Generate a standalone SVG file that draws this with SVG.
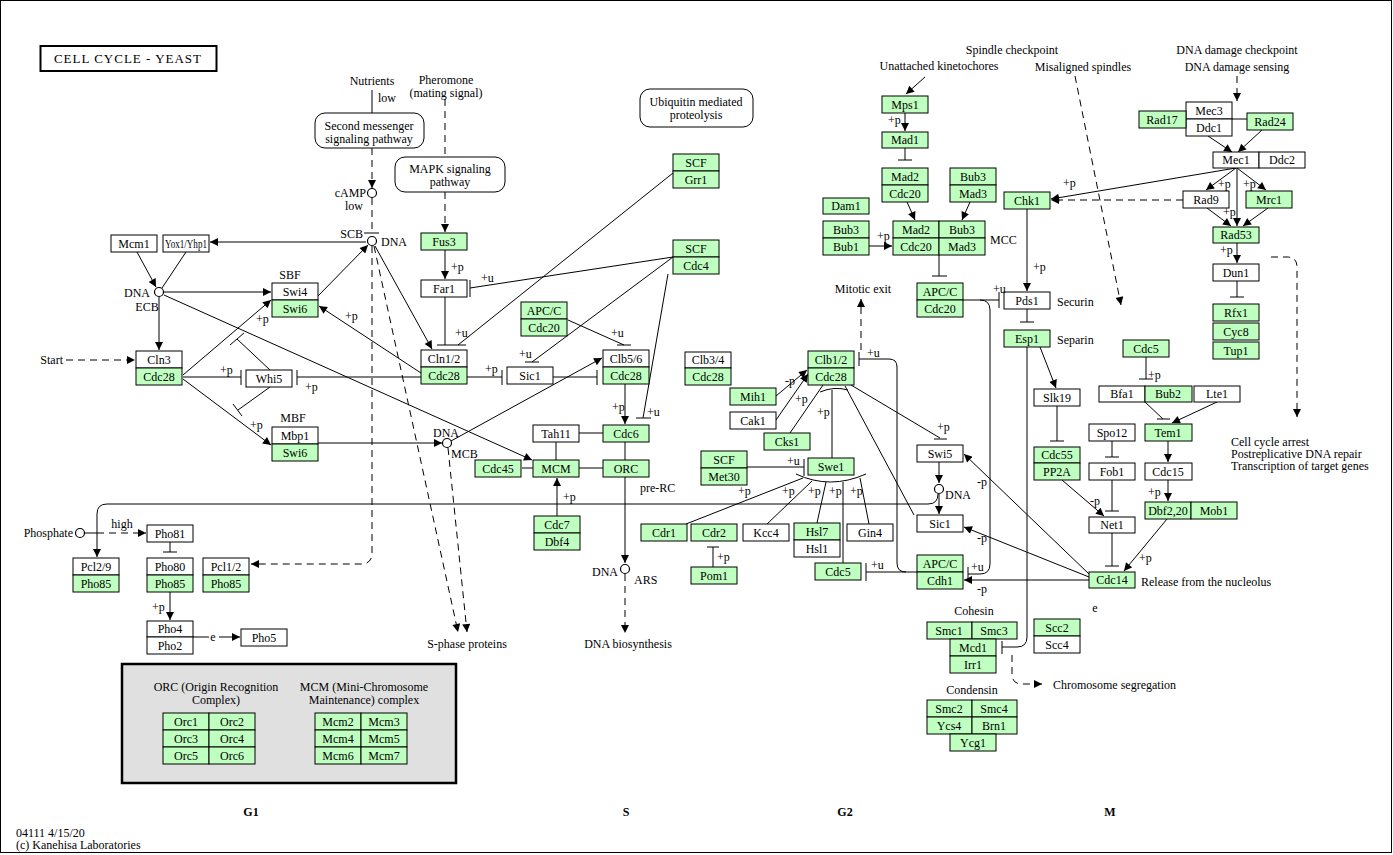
<svg xmlns="http://www.w3.org/2000/svg" width="1393" height="855" viewBox="0 0 1393 855">
<style>
text{font-family:"Liberation Serif","Times New Roman",serif;font-size:12px;fill:#000}
.c{text-anchor:middle}
.e{text-anchor:end}
.w{fill:#fff;stroke:#000;stroke-width:1}
.g{fill:#bfffbf;stroke:#000;stroke-width:1}
.l{stroke:#000;stroke-width:1;fill:none}
.d{stroke:#000;stroke-width:1;fill:none;stroke-dasharray:7,5}
.ci{fill:#fff;stroke:#000;stroke-width:1.2}
.pw{fill:#fff;stroke:#000;stroke-width:1}
.b{font-weight:bold;font-size:12px}
</style>
<defs>
<marker id="a" viewBox="0 0 10 10" refX="10" refY="5" markerWidth="9" markerHeight="8" markerUnits="userSpaceOnUse" orient="auto"><path d="M0,0L10,5L0,10z" fill="#000"/></marker>
</defs>
<rect x="0.5" y="0.5" width="1391" height="852" fill="#fff" stroke="#000"/>
<g id="title"><rect x="40.5" y="46" width="176" height="25" fill="#fff" stroke="#000" stroke-width="2"/><text x="128" y="63" class="c" style="font-size:13px;letter-spacing:1px">CELL  CYCLE  -  YEAST</text></g>

<g id="connectors">
<line class="l" x1="366" y1="242" x2="210" y2="242" marker-end="url(#a)"/>
<line class="l" x1="137" y1="252" x2="156" y2="287" marker-end="url(#a)"/>
<line class="l" x1="186" y1="252" x2="162" y2="288"/>
<line class="l" x1="164" y1="292" x2="271" y2="292" marker-end="url(#a)"/>
<line class="l" x1="159" y1="297" x2="159" y2="350" marker-end="url(#a)"/>
<line class="d" x1="66" y1="360" x2="135" y2="360" marker-end="url(#a)"/>
<line class="l" x1="183" y1="375" x2="271" y2="300" marker-end="url(#a)"/>
<line class="l" x1="183" y1="377" x2="241" y2="377"/><line class="l" x1="241" y1="370" x2="241" y2="385"/>
<line class="l" x1="183" y1="379" x2="271" y2="445" marker-end="url(#a)"/>
<line class="l" x1="270" y1="370" x2="237" y2="339"/><line class="l" x1="230" y1="345" x2="244" y2="333"/>
<line class="l" x1="270" y1="387" x2="238" y2="410"/><line class="l" x1="233" y1="404" x2="242" y2="416"/>
<line class="l" x1="421" y1="377" x2="297" y2="377"/><line class="l" x1="297" y1="370" x2="297" y2="385"/>
<line class="l" x1="421" y1="373" x2="319" y2="306" marker-end="url(#a)"/>
<line class="l" x1="318" y1="296" x2="368" y2="245" marker-end="url(#a)"/>
<line class="l" x1="164" y1="295" x2="532" y2="460" marker-end="url(#a)"/>
<line class="l" x1="318" y1="443" x2="442" y2="443" marker-end="url(#a)"/>
<line class="l" x1="451" y1="441" x2="602" y2="358" marker-end="url(#a)"/>
<line class="l" x1="375" y1="246" x2="432" y2="349" marker-end="url(#a)"/>
<line class="l" x1="372" y1="90" x2="372" y2="113"/>
<line class="d" x1="372" y1="148" x2="372" y2="188" marker-end="url(#a)"/>
<line class="d" x1="372" y1="198" x2="372" y2="233"/><line class="l" x1="364" y1="233" x2="379" y2="233"/>
<line class="d" x1="445" y1="99" x2="445" y2="157"/>
<line class="d" x1="445" y1="192" x2="445" y2="232" marker-end="url(#a)"/>
<line class="l" x1="445" y1="250" x2="445" y2="279" marker-end="url(#a)"/>
<line class="l" x1="445" y1="297" x2="445" y2="345"/><line class="l" x1="437" y1="345" x2="466" y2="345"/>
<line class="l" x1="673" y1="173" x2="458" y2="345"/>
<line class="l" x1="673" y1="257" x2="470" y2="288"/><line class="l" x1="470" y1="280" x2="470" y2="297"/>
<line class="l" x1="673" y1="257" x2="532" y2="362"/><line class="l" x1="525" y1="362" x2="539" y2="362"/>
<line class="l" x1="668" y1="274" x2="643" y2="418"/><line class="l" x1="636" y1="418" x2="651" y2="418"/>
<line class="l" x1="467" y1="377" x2="502" y2="377"/><line class="l" x1="502" y1="370" x2="502" y2="385"/>
<line class="l" x1="553" y1="377" x2="597" y2="377"/><line class="l" x1="597" y1="370" x2="597" y2="385"/>
<line class="l" x1="568" y1="320" x2="624" y2="345"/><line class="l" x1="617" y1="345" x2="631" y2="345"/>
<line class="l" x1="625" y1="384" x2="625" y2="424" marker-end="url(#a)"/>
<line class="l" x1="579" y1="433" x2="603" y2="433"/>
<line class="l" x1="556" y1="442" x2="556" y2="460"/>
<line class="l" x1="522" y1="468" x2="533" y2="468"/>
<line class="l" x1="579" y1="468" x2="603" y2="468"/>
<line class="l" x1="625" y1="442" x2="625" y2="460"/>
<line class="l" x1="557" y1="516" x2="557" y2="478" marker-end="url(#a)"/>
<line class="l" x1="625" y1="477" x2="625" y2="563" marker-end="url(#a)"/>
<line class="d" x1="625" y1="574" x2="625" y2="633" marker-end="url(#a)"/>
<line class="d" x1="374" y1="246" x2="458" y2="632" marker-end="url(#a)"/>
<line class="d" x1="448" y1="448" x2="467" y2="632" marker-end="url(#a)"/>
<path class="d" d="M372,246V553Q372,564 361,564H251" marker-end="url(#a)"/>
<line class="l" x1="85" y1="533" x2="97" y2="533"/>
<line class="d" x1="97" y1="533" x2="146" y2="533" marker-end="url(#a)"/>
<path class="l" d="M938,494Q938,504 928,504H107Q97,504 97,514V557" marker-end="url(#a)"/>
<line class="l" x1="170" y1="542" x2="170" y2="552"/><line class="l" x1="163" y1="552" x2="177" y2="552"/>
<line class="l" x1="170" y1="592" x2="170" y2="620" marker-end="url(#a)"/>
<line class="l" x1="193" y1="637" x2="209" y2="637"/>
<line class="l" x1="219" y1="637" x2="240" y2="637" marker-end="url(#a)"/>

<line class="l" x1="776" y1="396" x2="807" y2="370" marker-end="url(#a)"/>
<line class="l" x1="776" y1="420" x2="808" y2="374" marker-end="url(#a)"/>
<line class="l" x1="790" y1="433" x2="823" y2="385"/>
<line class="d" x1="861" y1="350" x2="861" y2="299" marker-end="url(#a)"/>
<line class="l" x1="832" y1="458" x2="832" y2="390"/><path class="l" d="M820,392Q834,386 848,390"/>
<line class="l" x1="747" y1="467" x2="804" y2="467"/><line class="l" x1="804" y1="459" x2="804" y2="476"/>
<path class="l" d="M796,474Q830,490 866,474"/>
<line class="l" x1="686" y1="524" x2="803" y2="478"/>
<line class="l" x1="767" y1="524" x2="812" y2="481"/>
<line class="l" x1="817" y1="523" x2="826" y2="482"/>
<line class="l" x1="843" y1="563" x2="843" y2="482"/>
<line class="l" x1="869" y1="524" x2="860" y2="478"/>
<line class="l" x1="713" y1="567" x2="713" y2="547"/><line class="l" x1="707" y1="547" x2="719" y2="547"/>
<line class="l" x1="851" y1="385" x2="940" y2="438"/><line class="l" x1="934" y1="439" x2="947" y2="439"/>
<line class="l" x1="845" y1="386" x2="914" y2="515"/>
<line class="l" x1="939" y1="462" x2="939" y2="483" marker-end="url(#a)"/>
<line class="l" x1="939" y1="494" x2="939" y2="514" marker-end="url(#a)"/>
<line class="l" x1="1089" y1="574" x2="964" y2="454" marker-end="url(#a)"/>
<line class="l" x1="1089" y1="577" x2="964" y2="527" marker-end="url(#a)"/>
<line class="l" x1="1089" y1="580" x2="964" y2="580" marker-end="url(#a)"/>
<path class="l" d="M917,572H906Q897,572 897,563V367Q897,359 889,359H859"/><line class="l" x1="859" y1="352" x2="859" y2="366"/>
<line class="l" x1="906" y1="572" x2="866" y2="572"/><line class="l" x1="866" y1="563" x2="866" y2="581"/>
<line class="l" x1="963" y1="300" x2="999" y2="300"/><line class="l" x1="999" y1="292" x2="999" y2="308"/>
<path class="l" d="M980,300Q990,300 990,310V564Q990,574 980,574H968"/><line class="l" x1="968" y1="567" x2="968" y2="580"/>
<line class="l" x1="1027" y1="209" x2="1027" y2="291" marker-end="url(#a)"/>
<line class="l" x1="1027" y1="309" x2="1027" y2="322"/><line class="l" x1="1020" y1="322" x2="1034" y2="322"/>
<path class="l" d="M1027,347V637Q1027,647 1017,647H1002"/><line class="l" x1="1002" y1="641" x2="1002" y2="654"/>
<line class="l" x1="1040" y1="347" x2="1056" y2="388" marker-end="url(#a)"/>
<line class="l" x1="1057" y1="406" x2="1057" y2="441"/><line class="l" x1="1050" y1="441" x2="1064" y2="441"/>
<line class="l" x1="1062" y1="480" x2="1104" y2="516" marker-end="url(#a)"/>
<line class="d" x1="1075" y1="76" x2="1121" y2="305" marker-end="url(#a)"/>
<line class="l" x1="925" y1="77" x2="906" y2="94" marker-end="url(#a)"/>
<line class="l" x1="905" y1="113" x2="905" y2="131" marker-end="url(#a)"/>
<line class="l" x1="905" y1="148" x2="905" y2="160"/><line class="l" x1="898" y1="160" x2="912" y2="160"/>
<line class="l" x1="907" y1="202" x2="915" y2="220" marker-end="url(#a)"/>
<line class="l" x1="970" y1="202" x2="962" y2="220" marker-end="url(#a)"/>
<line class="l" x1="869" y1="246" x2="892" y2="246" marker-end="url(#a)"/>
<line class="l" x1="939" y1="254" x2="939" y2="276"/><line class="l" x1="932" y1="276" x2="947" y2="276"/>
<line class="d" x1="1237" y1="76" x2="1237" y2="101" marker-end="url(#a)"/>
<line class="l" x1="1232" y1="119" x2="1247" y2="119"/>
<line class="l" x1="1208" y1="136" x2="1232" y2="152" marker-end="url(#a)"/>
<line class="l" x1="1262" y1="130" x2="1238" y2="152" marker-end="url(#a)"/>
<line class="l" x1="1236" y1="168" x2="1051" y2="199" marker-end="url(#a)"/>
<line class="d" x1="1183" y1="200" x2="1051" y2="200" marker-end="url(#a)"/>
<line class="l" x1="1236" y1="168" x2="1206" y2="190" marker-end="url(#a)"/>
<line class="l" x1="1237" y1="168" x2="1266" y2="190" marker-end="url(#a)"/>
<line class="l" x1="1237" y1="168" x2="1237" y2="226" marker-end="url(#a)"/>
<line class="l" x1="1207" y1="208" x2="1231" y2="226" marker-end="url(#a)"/>
<line class="l" x1="1268" y1="208" x2="1243" y2="226" marker-end="url(#a)"/>
<line class="l" x1="1237" y1="243" x2="1237" y2="263" marker-end="url(#a)"/>
<line class="l" x1="1237" y1="281" x2="1237" y2="297"/><line class="l" x1="1230" y1="297" x2="1244" y2="297"/>
<path class="d" d="M1271,257H1287Q1297,257 1297,267V417" marker-end="url(#a)"/>
<line class="l" x1="1146" y1="357" x2="1146" y2="379"/><line class="l" x1="1139" y1="379" x2="1153" y2="379"/>
<line class="l" x1="1145" y1="402" x2="1163" y2="419"/><line class="l" x1="1157" y1="419" x2="1170" y2="419"/>
<line class="l" x1="1217" y1="402" x2="1172" y2="423" marker-end="url(#a)"/>
<line class="l" x1="1168" y1="441" x2="1168" y2="462" marker-end="url(#a)"/>
<line class="l" x1="1168" y1="480" x2="1168" y2="501" marker-end="url(#a)"/>
<line class="l" x1="1167" y1="519" x2="1124" y2="571" marker-end="url(#a)"/>
<line class="l" x1="1112" y1="441" x2="1112" y2="457"/><line class="l" x1="1105" y1="457" x2="1119" y2="457"/>
<line class="l" x1="1112" y1="480" x2="1112" y2="511"/><line class="l" x1="1105" y1="511" x2="1119" y2="511"/>
<line class="l" x1="1112" y1="533" x2="1112" y2="566"/><line class="l" x1="1105" y1="566" x2="1119" y2="566"/>
<path class="d" d="M1012,655V674Q1012,684 1022,684H1042" marker-end="url(#a)"/>
</g>

<g id="circles">
<circle class="ci" cx="159" cy="292" r="4.5"/>
<circle class="ci" cx="372" cy="241" r="4.5"/>
<circle class="ci" cx="372" cy="193" r="4.5"/>
<circle class="ci" cx="447" cy="443" r="4.5"/>
<circle class="ci" cx="625" cy="569" r="4.5"/>
<circle class="ci" cx="80" cy="533" r="4.5"/>
<circle class="ci" cx="939" cy="489" r="4.5"/>
</g>

<g id="pathways">
<rect class="pw" x="315" y="113" width="109" height="35" rx="10"/><text x="369" y="130" class="c">Second messenger</text><text x="369" y="143" class="c">signaling pathway</text>
<rect class="pw" x="395" y="157" width="110" height="35" rx="10"/><text x="450" y="173" class="c">MAPK signaling</text><text x="450" y="186" class="c">pathway</text>
<rect class="pw" x="640" y="89" width="113" height="38" rx="10"/><text x="696" y="106" class="c">Ubiquitin mediated</text><text x="696" y="119" class="c">proteolysis</text>
</g>

<g id="n-mcm1"><rect class="w" x="111" y="235" width="46" height="17"/><text x="134" y="248" class="c">Mcm1</text></g>
<g id="n-yox1"><rect class="w" x="163" y="235" width="46" height="17"/><text x="186" y="248" class="c" textLength="42" lengthAdjust="spacingAndGlyphs">Yox1/Yhp1</text></g>
<g id="n-sbf"><rect class="w" x="272" y="283" width="46" height="17"/><text x="295" y="296" class="c">Swi4</text><rect class="g" x="272" y="300" width="46" height="17"/><text x="295" y="313" class="c">Swi6</text></g>
<g id="n-cln3"><rect class="w" x="136" y="351" width="46" height="17"/><text x="159" y="364" class="c">Cln3</text><rect class="g" x="136" y="368" width="46" height="17"/><text x="159" y="381" class="c">Cdc28</text></g>
<g id="n-whi5"><rect class="w" x="246" y="370" width="46" height="17"/><text x="269" y="383" class="c">Whi5</text></g>
<g id="n-mbf"><rect class="w" x="272" y="427" width="46" height="17"/><text x="295" y="440" class="c">Mbp1</text><rect class="g" x="272" y="444" width="46" height="17"/><text x="295" y="457" class="c">Swi6</text></g>
<g id="n-fus3"><rect class="g" x="421" y="233" width="46" height="17"/><text x="444" y="246" class="c">Fus3</text></g>
<g id="n-far1"><rect class="w" x="421" y="280" width="46" height="17"/><text x="444" y="293" class="c">Far1</text></g>
<g id="n-cln12"><rect class="w" x="421" y="350" width="46" height="17"/><text x="444" y="363" class="c">Cln1/2</text><rect class="g" x="421" y="367" width="46" height="17"/><text x="444" y="380" class="c">Cdc28</text></g>
<g id="n-sic1"><rect class="w" x="507" y="367" width="46" height="17"/><text x="530" y="380" class="c">Sic1</text></g>
<g id="n-clb56"><rect class="w" x="603" y="350" width="46" height="17"/><text x="626" y="363" class="c">Clb5/6</text><rect class="g" x="603" y="367" width="46" height="17"/><text x="626" y="380" class="c">Cdc28</text></g>
<g id="n-apcc-cdc20a"><rect class="g" x="521" y="302" width="46" height="17"/><text x="544" y="315" class="c">APC/C</text><rect class="g" x="521" y="319" width="46" height="17"/><text x="544" y="332" class="c">Cdc20</text></g>
<g id="n-scf-grr1"><rect class="g" x="673" y="154" width="46" height="17"/><text x="696" y="167" class="c">SCF</text><rect class="g" x="673" y="171" width="46" height="17"/><text x="696" y="184" class="c">Grr1</text></g>
<g id="n-scf-cdc4"><rect class="g" x="673" y="240" width="46" height="17"/><text x="696" y="253" class="c">SCF</text><rect class="g" x="673" y="257" width="46" height="17"/><text x="696" y="270" class="c">Cdc4</text></g>
<g id="n-cdc6"><rect class="g" x="603" y="425" width="46" height="17"/><text x="626" y="438" class="c">Cdc6</text></g>
<g id="n-tah11"><rect class="w" x="533" y="425" width="46" height="17"/><text x="556" y="438" class="c">Tah11</text></g>
<g id="n-mcm"><rect class="g" x="533" y="460" width="46" height="17"/><text x="556" y="473" class="c">MCM</text></g>
<g id="n-cdc45"><rect class="g" x="475" y="460" width="46" height="17"/><text x="498" y="473" class="c">Cdc45</text></g>
<g id="n-orc"><rect class="g" x="603" y="460" width="46" height="17"/><text x="626" y="473" class="c">ORC</text></g>
<g id="n-cdc7"><rect class="g" x="534" y="516" width="46" height="17"/><text x="557" y="529" class="c">Cdc7</text><rect class="g" x="534" y="533" width="46" height="17"/><text x="557" y="546" class="c">Dbf4</text></g>
<g id="n-pho81"><rect class="w" x="147" y="525" width="46" height="17"/><text x="170" y="538" class="c">Pho81</text></g>
<g id="n-pcl29"><rect class="w" x="73" y="558" width="46" height="17"/><text x="96" y="571" class="c">Pcl2/9</text><rect class="g" x="73" y="575" width="46" height="17"/><text x="96" y="588" class="c">Pho85</text></g>
<g id="n-pho80"><rect class="w" x="147" y="558" width="46" height="17"/><text x="170" y="571" class="c">Pho80</text><rect class="g" x="147" y="575" width="46" height="17"/><text x="170" y="588" class="c">Pho85</text></g>
<g id="n-pcl12"><rect class="w" x="203" y="558" width="46" height="17"/><text x="226" y="571" class="c">Pcl1/2</text><rect class="g" x="203" y="575" width="46" height="17"/><text x="226" y="588" class="c">Pho85</text></g>
<g id="n-pho4"><rect class="w" x="147" y="621" width="46" height="16"/><text x="170" y="633" class="c">Pho4</text><rect class="w" x="147" y="637" width="46" height="17"/><text x="170" y="650" class="c">Pho2</text></g>
<g id="n-pho5"><rect class="w" x="241" y="629" width="46" height="17"/><text x="264" y="642" class="c">Pho5</text></g>

<g id="n-complexes">
<rect x="122" y="664" width="334" height="119" fill="#e0e0e0" stroke="#000" stroke-width="2.5"/>
<text x="216" y="691" class="c">ORC (Origin Recognition</text><text x="216" y="704" class="c">Complex)</text>
<text x="364" y="691" class="c">MCM (Mini-Chromosome</text><text x="364" y="704" class="c">Maintenance) complex</text>
<rect class="g" x="163" y="713" width="46" height="17"/><text x="186" y="726" class="c">Orc1</text>
<rect class="g" x="209" y="713" width="46" height="17"/><text x="232" y="726" class="c">Orc2</text>
<rect class="g" x="163" y="730" width="46" height="17"/><text x="186" y="743" class="c">Orc3</text>
<rect class="g" x="209" y="730" width="46" height="17"/><text x="232" y="743" class="c">Orc4</text>
<rect class="g" x="163" y="747" width="46" height="17"/><text x="186" y="760" class="c">Orc5</text>
<rect class="g" x="209" y="747" width="46" height="17"/><text x="232" y="760" class="c">Orc6</text>
<rect class="g" x="315" y="713" width="46" height="17"/><text x="338" y="726" class="c">Mcm2</text>
<rect class="g" x="361" y="713" width="46" height="17"/><text x="384" y="726" class="c">Mcm3</text>
<rect class="g" x="315" y="730" width="46" height="17"/><text x="338" y="743" class="c">Mcm4</text>
<rect class="g" x="361" y="730" width="46" height="17"/><text x="384" y="743" class="c">Mcm5</text>
<rect class="g" x="315" y="747" width="46" height="17"/><text x="338" y="760" class="c">Mcm6</text>
<rect class="g" x="361" y="747" width="46" height="17"/><text x="384" y="760" class="c">Mcm7</text>
</g>

<g id="n-clb34"><rect class="w" x="685" y="352" width="46" height="16"/><text x="708" y="364" class="c">Clb3/4</text><rect class="g" x="685" y="368" width="46" height="17"/><text x="708" y="381" class="c">Cdc28</text></g>
<g id="n-clb12"><rect class="g" x="808" y="351" width="46" height="17"/><text x="831" y="364" class="c">Clb1/2</text><rect class="g" x="808" y="368" width="46" height="17"/><text x="831" y="381" class="c">Cdc28</text></g>
<g id="n-mih1"><rect class="g" x="730" y="388" width="46" height="17"/><text x="753" y="401" class="c">Mih1</text></g>
<g id="n-cak1"><rect class="w" x="730" y="412" width="46" height="17"/><text x="753" y="425" class="c">Cak1</text></g>
<g id="n-cks1"><rect class="g" x="764" y="433" width="46" height="17"/><text x="787" y="446" class="c">Cks1</text></g>
<g id="n-scf-met30"><rect class="g" x="701" y="451" width="46" height="17"/><text x="724" y="464" class="c">SCF</text><rect class="g" x="701" y="468" width="46" height="17"/><text x="724" y="481" class="c">Met30</text></g>
<g id="n-swe1"><rect class="g" x="808" y="458" width="46" height="17"/><text x="831" y="471" class="c">Swe1</text></g>
<g id="n-cdr1"><rect class="g" x="641" y="524" width="46" height="17"/><text x="664" y="537" class="c">Cdr1</text></g>
<g id="n-cdr2"><rect class="g" x="691" y="524" width="46" height="17"/><text x="714" y="537" class="c">Cdr2</text></g>
<g id="n-kcc4"><rect class="w" x="743" y="524" width="46" height="17"/><text x="766" y="537" class="c">Kcc4</text></g>
<g id="n-hsl7"><rect class="g" x="794" y="523" width="46" height="17"/><text x="817" y="536" class="c">Hsl7</text><rect class="w" x="794" y="540" width="46" height="17"/><text x="817" y="553" class="c">Hsl1</text></g>
<g id="n-gin4"><rect class="w" x="847" y="524" width="46" height="17"/><text x="870" y="537" class="c">Gin4</text></g>
<g id="n-pom1"><rect class="g" x="691" y="567" width="46" height="17"/><text x="714" y="580" class="c">Pom1</text></g>
<g id="n-cdc5a"><rect class="g" x="815" y="563" width="46" height="17"/><text x="838" y="576" class="c">Cdc5</text></g>
<g id="n-apcc-cdh1"><rect class="g" x="917" y="555" width="46" height="17"/><text x="940" y="568" class="c">APC/C</text><rect class="g" x="917" y="572" width="46" height="17"/><text x="940" y="585" class="c">Cdh1</text></g>
<g id="n-swi5"><rect class="w" x="917" y="445" width="46" height="17"/><text x="940" y="458" class="c">Swi5</text></g>
<g id="n-sic1b"><rect class="w" x="917" y="515" width="46" height="17"/><text x="940" y="528" class="c">Sic1</text></g>
<g id="n-mps1"><rect class="g" x="882" y="96" width="46" height="17"/><text x="905" y="109" class="c">Mps1</text></g>
<g id="n-mad1"><rect class="g" x="882" y="132" width="46" height="16"/><text x="905" y="144" class="c">Mad1</text></g>
<g id="n-mad2"><rect class="g" x="882" y="168" width="46" height="17"/><text x="905" y="181" class="c">Mad2</text><rect class="g" x="882" y="185" width="46" height="17"/><text x="905" y="198" class="c">Cdc20</text></g>
<g id="n-bub3mad3"><rect class="g" x="950" y="168" width="46" height="17"/><text x="973" y="181" class="c">Bub3</text><rect class="g" x="950" y="185" width="46" height="17"/><text x="973" y="198" class="c">Mad3</text></g>
<g id="n-dam1"><rect class="g" x="823" y="198" width="46" height="16"/><text x="846" y="210" class="c">Dam1</text></g>
<g id="n-bub1"><rect class="g" x="823" y="221" width="46" height="17"/><text x="846" y="234" class="c">Bub3</text><rect class="g" x="823" y="238" width="46" height="17"/><text x="846" y="251" class="c">Bub1</text></g>
<g id="n-mcc"><rect class="g" x="893" y="221" width="46" height="17"/><text x="916" y="234" class="c">Mad2</text><rect class="g" x="939" y="221" width="46" height="17"/><text x="962" y="234" class="c">Bub3</text><rect class="g" x="893" y="238" width="46" height="17"/><text x="916" y="251" class="c">Cdc20</text><rect class="g" x="939" y="238" width="46" height="17"/><text x="962" y="251" class="c">Mad3</text></g>
<g id="n-apcc-cdc20b"><rect class="g" x="917" y="283" width="46" height="17"/><text x="940" y="296" class="c">APC/C</text><rect class="g" x="917" y="300" width="46" height="17"/><text x="940" y="313" class="c">Cdc20</text></g>
<g id="n-chk1"><rect class="g" x="1004" y="192" width="46" height="17"/><text x="1027" y="205" class="c">Chk1</text></g>
<g id="n-pds1"><rect class="w" x="1004" y="292" width="46" height="17"/><text x="1027" y="305" class="c">Pds1</text></g>
<g id="n-esp1"><rect class="g" x="1004" y="330" width="46" height="17"/><text x="1027" y="343" class="c">Esp1</text></g>
<g id="n-cohesin"><rect class="g" x="927" y="622" width="45" height="17"/><text x="949" y="635" class="c">Smc1</text><rect class="g" x="972" y="622" width="45" height="17"/><text x="994" y="635" class="c">Smc3</text><rect class="g" x="950" y="639" width="46" height="17"/><text x="973" y="652" class="c">Mcd1</text><rect class="g" x="950" y="656" width="46" height="17"/><text x="973" y="669" class="c">Irr1</text></g>
<g id="n-condensin"><rect class="g" x="927" y="700" width="45" height="17"/><text x="949" y="713" class="c">Smc2</text><rect class="g" x="972" y="700" width="45" height="17"/><text x="994" y="713" class="c">Smc4</text><rect class="g" x="927" y="717" width="45" height="17"/><text x="949" y="730" class="c">Ycs4</text><rect class="g" x="972" y="717" width="45" height="17"/><text x="994" y="730" class="c">Brn1</text><rect class="g" x="950" y="734" width="46" height="17"/><text x="973" y="747" class="c">Ycg1</text></g>

<g id="n-mec3"><rect class="w" x="1186" y="102" width="46" height="17"/><text x="1209" y="115" class="c">Mec3</text><rect class="w" x="1186" y="119" width="46" height="17"/><text x="1209" y="132" class="c">Ddc1</text></g>
<g id="n-rad17"><rect class="g" x="1139" y="111" width="47" height="17"/><text x="1162" y="124" class="c">Rad17</text></g>
<g id="n-rad24"><rect class="g" x="1247" y="113" width="46" height="17"/><text x="1270" y="126" class="c">Rad24</text></g>
<g id="n-mec1"><rect class="w" x="1213" y="152" width="46" height="16"/><text x="1236" y="164" class="c">Mec1</text><rect class="w" x="1259" y="152" width="46" height="16"/><text x="1282" y="164" class="c">Ddc2</text></g>
<g id="n-rad9"><rect class="w" x="1183" y="191" width="46" height="17"/><text x="1206" y="204" class="c">Rad9</text></g>
<g id="n-mrc1"><rect class="g" x="1246" y="191" width="46" height="17"/><text x="1269" y="204" class="c">Mrc1</text></g>
<g id="n-rad53"><rect class="g" x="1213" y="227" width="46" height="16"/><text x="1236" y="239" class="c">Rad53</text></g>
<g id="n-dun1"><rect class="w" x="1213" y="264" width="46" height="17"/><text x="1236" y="277" class="c">Dun1</text></g>
<g id="n-rfx1"><rect class="g" x="1213" y="304" width="46" height="17"/><text x="1236" y="317" class="c">Rfx1</text><rect class="g" x="1213" y="323" width="46" height="17"/><text x="1236" y="336" class="c">Cyc8</text><rect class="g" x="1213" y="342" width="46" height="17"/><text x="1236" y="355" class="c">Tup1</text></g>
<g id="n-cdc5b"><rect class="g" x="1123" y="340" width="46" height="17"/><text x="1146" y="353" class="c">Cdc5</text></g>
<g id="n-bfa1"><rect class="w" x="1099" y="386" width="46" height="16"/><text x="1122" y="398" class="c">Bfa1</text><rect class="g" x="1145" y="386" width="47" height="16"/><text x="1168" y="398" class="c">Bub2</text></g>
<g id="n-lte1"><rect class="w" x="1194" y="386" width="46" height="16"/><text x="1217" y="398" class="c">Lte1</text></g>
<g id="n-tem1"><rect class="g" x="1145" y="424" width="47" height="17"/><text x="1168" y="437" class="c">Tem1</text></g>
<g id="n-cdc15"><rect class="w" x="1145" y="463" width="47" height="17"/><text x="1168" y="476" class="c">Cdc15</text></g>
<g id="n-dbf2"><rect class="g" x="1145" y="502" width="46" height="17"/><text x="1168" y="515" class="c">Dbf2,20</text><rect class="g" x="1191" y="502" width="46" height="17"/><text x="1214" y="515" class="c">Mob1</text></g>
<g id="n-slk19"><rect class="w" x="1034" y="389" width="46" height="17"/><text x="1057" y="402" class="c">Slk19</text></g>
<g id="n-pp2a"><rect class="g" x="1034" y="447" width="46" height="16"/><text x="1057" y="459" class="c">Cdc55</text><rect class="g" x="1034" y="463" width="46" height="17"/><text x="1057" y="476" class="c">PP2A</text></g>
<g id="n-spo12"><rect class="w" x="1089" y="424" width="46" height="17"/><text x="1112" y="437" class="c">Spo12</text></g>
<g id="n-fob1"><rect class="w" x="1089" y="463" width="46" height="17"/><text x="1112" y="476" class="c">Fob1</text></g>
<g id="n-net1"><rect class="w" x="1089" y="517" width="46" height="16"/><text x="1112" y="529" class="c">Net1</text></g>
<g id="n-cdc14"><rect class="g" x="1089" y="572" width="46" height="16"/><text x="1112" y="584" class="c">Cdc14</text></g>
<g id="n-scc2"><rect class="g" x="1034" y="619" width="46" height="17"/><text x="1057" y="632" class="c">Scc2</text><rect class="w" x="1034" y="636" width="46" height="17"/><text x="1057" y="649" class="c">Scc4</text></g>

<g id="labels">
<text x="372" y="85" class="c">Nutrients</text><text x="378" y="102">low</text>
<text x="446" y="84" class="c">Pheromone</text><text x="446" y="97" class="c">(mating signal)</text>
<text x="366" y="197" class="e">cAMP</text><text x="354" y="210" class="c">low</text>
<text x="363" y="238" class="e">SCB</text><text x="381" y="246">DNA</text>
<text x="150" y="297" class="e">DNA</text><text x="147" y="311" class="c">ECB</text>
<text x="290" y="279" class="c">SBF</text><text x="293" y="422" class="c">MBF</text>
<text x="63" y="364" class="e">Start</text>
<text x="256" y="323">+p</text><text x="220" y="374">+p</text><text x="305" y="391">+p</text><text x="250" y="429">+p</text><text x="345" y="320">+p</text>
<text x="451" y="271">+p</text><text x="481" y="282">+u</text><text x="455" y="337">+u</text><text x="485" y="373">+p</text><text x="519" y="358">+u</text><text x="611" y="337">+u</text><text x="612" y="411">+p</text><text x="647" y="416">+u</text>
<text x="446" y="437" class="c">DNA</text><text x="451" y="458">MCB</text>
<text x="640" y="492">pre-RC</text><text x="563" y="501">+p</text>
<text x="618" y="576" class="e">DNA</text><text x="634" y="584">ARS</text>
<text x="628" y="648" class="c">DNA biosynthesis</text><text x="467" y="648" class="c">S-phase proteins</text>
<text x="73" y="537" class="e">Phosphate</text><text x="122" y="528" class="c">high</text>
<text x="152" y="611">+p</text><text x="213" y="641" class="c">e</text>
<text x="785" y="385">-p</text><text x="795" y="403">+p</text><text x="867" y="357">+u</text>
<text x="863" y="293" class="c">Mitotic exit</text>
<text x="817" y="416">+p</text><text x="787" y="465">+u</text>
<text x="738" y="495">+p</text><text x="782" y="495">+p</text><text x="808" y="495">+p</text><text x="829" y="495">+p</text><text x="850" y="495">+p</text>
<text x="717" y="561">+p</text><text x="871" y="569">+u</text><text x="971" y="571">+u</text><text x="977" y="593">-p</text>
<text x="977" y="486">-p</text><text x="977" y="542">-p</text><text x="937" y="431">+p</text><text x="945" y="499">DNA</text>
<text x="1141" y="586">Release from the nucleolus</text><text x="1095" y="612" class="c">e</text>
<text x="974" y="615" class="c">Cohesin</text><text x="972" y="694" class="c">Condensin</text>
<text x="1053" y="689">Chromosome segregation</text>
<text x="939" y="70" class="c">Unattached kinetochores</text>
<text x="1012" y="54" class="c">Spindle checkpoint</text>
<text x="1083" y="71" class="c">Misaligned spindles</text>
<text x="1237" y="54" class="c">DNA damage checkpoint</text>
<text x="1237" y="71" class="c">DNA damage sensing</text>
<text x="888" y="124">+p</text><text x="877" y="240">+p</text><text x="990" y="244">MCC</text>
<text x="993" y="293">+u</text>
<text x="1063" y="187">+p</text><text x="1033" y="271">+p</text>
<text x="1057" y="306">Securin</text><text x="1057" y="344">Separin</text>
<text x="1218" y="188">+p</text><text x="1243" y="188">+p</text><text x="1223" y="216">+p</text><text x="1220" y="254">+p</text>
<text x="1148" y="379">+p</text><text x="1148" y="496">+p</text><text x="1139" y="562">+p</text><text x="1090" y="505">-p</text>
<text x="1231" y="446">Cell cycle arrest</text><text x="1231" y="458">Postreplicative DNA repair</text><text x="1231" y="470">Transcription of target genes</text>
<text x="251" y="816" class="c b">G1</text><text x="626" y="816" class="c b">S</text><text x="845" y="816" class="c b">G2</text><text x="1110" y="816" class="c b">M</text>
<text x="16" y="837">04111 4/15/20</text><text x="16" y="849">(c) Kanehisa Laboratories</text>
</g>
</svg>
